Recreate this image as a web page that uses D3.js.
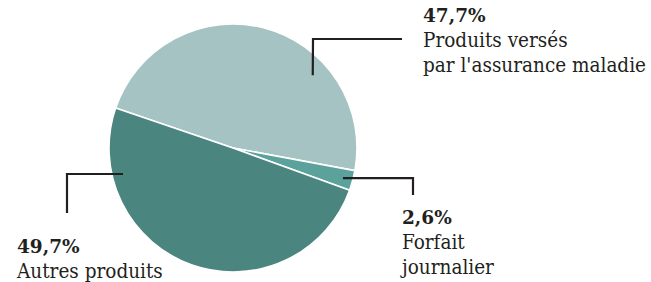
<!DOCTYPE html>
<html>
<head>
<meta charset="utf-8">
<script src="https://cdn.jsdelivr.net/npm/d3@7"></script>
<style>
  body { margin: 0; background: #fff; }
  .pct { font-family: "DejaVu Serif"; font-weight: bold; font-size: 18.5px; fill: #231f20; }
  .lbl { font-family: "DejaVu Serif"; font-stretch: condensed; font-size: 20.5px; fill: #231f20; }
  .leader { fill: none; stroke: #231f20; stroke-width: 2.2; }
</style>
</head>
<body>
<div id="chart"></div>
<script>
var categories = ["Produits versés par l'assurance maladie", "Forfait journalier", "Autres produits"];
var values = [47.7, 2.6, 49.7];
var valueLabels = ["47,7%", "2,6%", "49,7%"];
var labelLines = [["Produits versés", "par l'assurance maladie"], ["Forfait", "journalier"], ["Autres produits"]];
var colors = ["#a4c3c2", "#5ba29c", "#4b8580"];

var width = 651;
var height = 282;
var cx = 233;
var cy = 148;
var radius = 124;

var svg = d3.select("#chart")
    .append("svg")
    .attr("width", width)
    .attr("height", height);

var pie = d3.pie()
    .sort(null)
    .startAngle(-71.2 * Math.PI / 180)
    .endAngle(288.8 * Math.PI / 180);

var arc = d3.arc().innerRadius(0).outerRadius(radius);

var g = svg.append("g").attr("transform", "translate(" + cx + "," + cy + ")");

g.selectAll("path")
    .data(pie(values))
    .enter()
    .append("path")
    .attr("d", arc)
    .attr("fill", function(d, i) { return colors[i]; })
    .attr("stroke", "#fff")
    .attr("stroke-width", 1.6);

// leader lines: anchor on slice (angle in degrees, radius), elbow and end in page coords
var leaders = [
    { angle: 47.6, r: 108, elbow: [313, 39], end: [402, 39], text: [423, 22] },
    { angle: 105.3, r: 114, elbow: [413, 178], end: [413, 195], text: [402, 224] },
    { angle: -103.3, r: 113, elbow: [67, 174], end: [67, 213], text: [17, 253] }
];

var line = d3.line();

leaders.forEach(function(l, i) {
    var p = d3.pointRadial(l.angle * Math.PI / 180, l.r);
    var start = [cx + p[0], cy + p[1]];

    svg.append("path")
        .attr("class", "leader")
        .attr("d", line([start, l.elbow, l.end]));

    svg.append("text")
        .attr("class", "pct")
        .attr("x", l.text[0])
        .attr("y", l.text[1])
        .text(valueLabels[i]);

    labelLines[i].forEach(function(t, j) {
        svg.append("text")
            .attr("class", "lbl")
            .attr("x", l.text[0])
            .attr("y", l.text[1] + 25 + j * 25)
            .text(t);
    });
});
</script>
</body>
</html>
